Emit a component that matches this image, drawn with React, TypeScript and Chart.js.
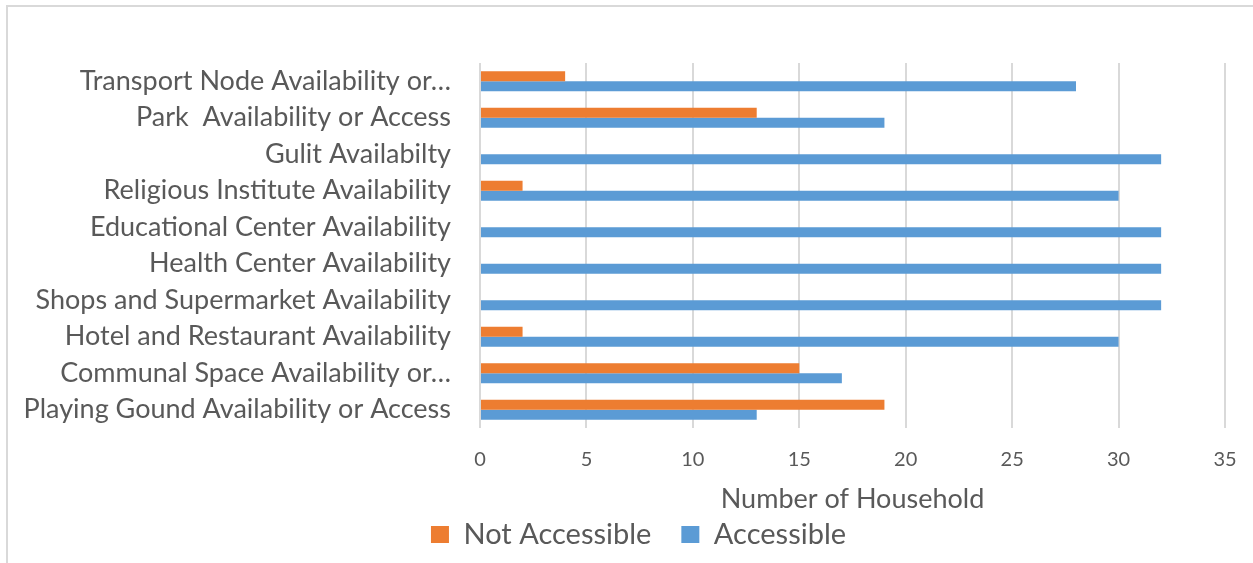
import React, { useEffect, useRef } from "react";
import { Chart, registerables } from "chart.js";

Chart.register(...registerables);

const categories = [
  "Transport Node Availability or…",
  "Park  Availability or Access",
  "Gulit Availabilty",
  "Religious Institute Availability",
  "Educational Center Availability",
  "Health Center Availability",
  "Shops and Supermarket Availability",
  "Hotel and Restaurant Availability",
  "Communal Space Availability or…",
  "Playing Gound Availability or Access",
];
const notAccessible = [4, 13, 0, 2, 0, 0, 0, 2, 15, 19];
const accessible = [28, 19, 32, 30, 32, 32, 32, 30, 17, 13];
const xMin = 0;
const xMax = 35;
const xStep = 5;
const xTitle = "Number of Household";

const TEXT = "#595959";
const GRID = "#d9d9d9";
const FONT = "Lato";

const shiftLegend = {
  id: "shiftLegend",
  beforeDraw(chart: any) {
    const lg = chart.legend;
    if (lg) {
      lg.left += 26;
      lg.right += 26;
    }
  },
};

export default function App() {
  const ref = useRef<HTMLCanvasElement>(null);
  useEffect(() => {
    const chart = new Chart(ref.current!, {
      type: "bar",
      data: {
        labels: categories,
        datasets: [
          {
            label: "Not Accessible",
            data: notAccessible,
            backgroundColor: "#ED7D31",
            categoryPercentage: 0.55,
            barPercentage: 1,
          },
          {
            label: "Accessible",
            data: accessible,
            backgroundColor: "#5B9BD5",
            categoryPercentage: 0.55,
            barPercentage: 1,
          },
        ],
      },
      plugins: [shiftLegend],
      options: {
        indexAxis: "y",
        responsive: false,
        maintainAspectRatio: false,
        animation: false,
        layout: { padding: { left: 0, right: 28, top: 63, bottom: 4 } },
        plugins: {
          legend: {
            position: "bottom",
            labels: {
              boxWidth: 18,
              boxHeight: 17,
              padding: 30,
              color: TEXT,
              font: { family: FONT, size: 29 },
            },
          },
          tooltip: { enabled: false },
        },
        scales: {
          x: {
            min: xMin,
            max: xMax,
            ticks: {
              stepSize: xStep,
              padding: 3,
              color: TEXT,
              font: { family: FONT, size: 20 },
            },
            grid: {
              color: GRID,
              lineWidth: 2,
              drawTicks: true,
              tickLength: 17,
              tickColor: "rgba(0,0,0,0)",
            },
            border: { display: false },
            title: {
              display: true,
              text: xTitle,
              color: TEXT,
              font: { family: FONT, size: 27 },
              padding: { top: 0, bottom: -25 },
            },
            afterFit: (s: any) => {
              s.height = 62;
            },
          },
          y: {
            ticks: {
              padding: 29,
              color: TEXT,
              autoSkip: false,
              font: { family: FONT, size: 27 },
            },
            grid: { display: false, drawTicks: false },
            border: { display: false },
            afterFit: (s: any) => {
              s.width = 480;
            },
          },
        },
      },
    } as any);
    return () => chart.destroy();
  }, []);

  return (
    <div
      style={{
        position: "fixed",
        left: 0,
        top: 0,
        width: 1253,
        height: 563,
        background: "#fff",
        overflow: "hidden",
      }}
    >
      <div
        style={{
          position: "absolute",
          left: 6,
          top: 5,
          width: 1400,
          height: 700,
          border: `2px solid ${GRID}`,
        }}
      />
      <canvas
        ref={ref}
        width={1253}
        height={563}
        style={{ position: "absolute", left: 0, top: 0, width: 1253, height: 563 }}
      />
    </div>
  );
}
